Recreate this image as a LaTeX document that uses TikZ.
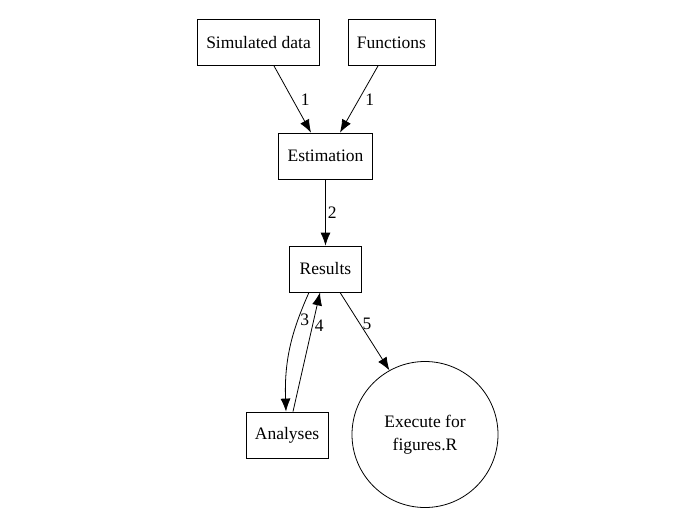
\documentclass[tikz,border=0pt]{standalone}
\usepackage{fontspec}
\setmainfont{Liberation Serif}
\usepackage{tikz}
\usetikzlibrary{shapes, positioning, arrows.meta}

\begin{document}
\begin{tikzpicture}[x=1pt, y=-1pt,
    every node/.style={font=\fontsize{17.5}{22.5}\selectfont},
    stepbox/.style={rectangle,
      draw,
      thick,
      minimum width=72pt,
      minimum height=46pt,
      inner xsep=9pt,
      align=center},
    endcircle/.style={circle,
      draw,
      thick,
      minimum size=146pt,
      align=center},
    link/.style={thick, -{Latex[length=13pt, width=10pt]}},
    num/.style={inner sep=2pt, anchor=west}]

  \useasboundingbox (0,0) rectangle (700,530);

  % NODES

  \node [stepbox] (simdata) at (258.5,42.5) {Simulated data};
  \node [stepbox] (functions) at (391.5,42.5) {Functions};
  \node [stepbox] (estimation) at (325.5,156) {Estimation};
  \node [stepbox] (results) at (325.5,269) {Results};
  \node [stepbox] (analyses) at (287,435) {Analyses};
  \node [endcircle] (execute) at (425,434.5) {Execute for\\figures.R};

  % EDGES

  \draw [link] ([xshift=15.5pt]simdata.south)
    -- node [num, pos=0.5, xshift=6pt] {1} ([xshift=-14.5pt]estimation.north);
  \draw [link] ([xshift=-13.5pt]functions.south)
    -- node [num, pos=0.5, xshift=4pt] {1} ([xshift=14.5pt]estimation.north);
  \draw [link] (estimation.south)
    -- node [num, pos=0.5] {2} (results.north);
  \draw [link] ([xshift=-16.5pt]results.south)
    .. controls ([xshift=-32pt,yshift=-35pt]results.south)
    and ([xshift=-3pt,yshift=55pt]analyses.north)
    .. node [num, pos=0.27] {3} ([xshift=-1pt]analyses.north);
  \draw [link] ([xshift=6pt]analyses.north)
    -- node [num, pos=0.72] {4} ([xshift=-5.5pt]results.south);
  \draw [link] ([xshift=14.5pt]results.south)
    -- node [num, pos=0.41] {5} (execute.119);

\end{tikzpicture}
\end{document}
